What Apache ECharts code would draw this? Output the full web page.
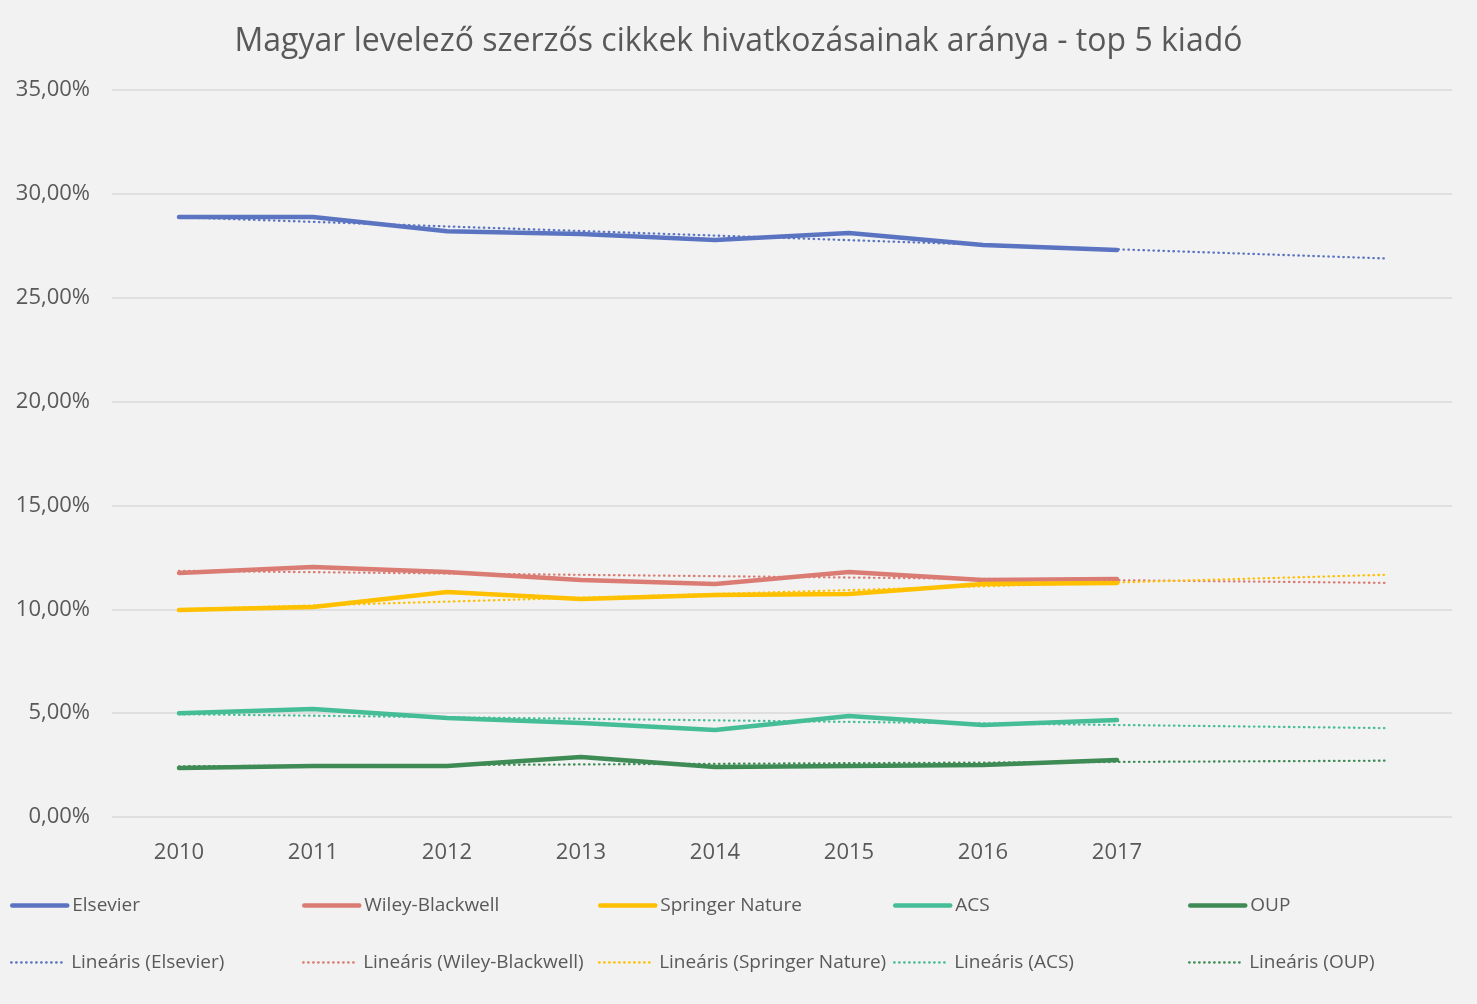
<!DOCTYPE html>
<html>
<head>
<meta charset="utf-8">
<script src="https://cdn.jsdelivr.net/npm/echarts@6/dist/echarts.min.js"></script>
<style>
html,body{margin:0;padding:0;background:#F2F2F2;}
#c{width:1477px;height:1004px;}
</style>
</head>
<body>
<div id="c"></div>
<script>
const categories = ['2010','2011','2012','2013','2014','2015','2016','2017','',''];
const elsevier = [28.89, 28.89, 28.20, 28.07, 27.78, 28.12, 27.54, 27.30];
const wiley    = [11.75, 12.04, 11.80, 11.41, 11.22, 11.80, 11.41, 11.46];
const springer = [9.97, 10.11, 10.83, 10.50, 10.69, 10.74, 11.22, 11.27];
const acs      = [5.00, 5.20, 4.77, 4.53, 4.19, 4.86, 4.43, 4.67];
const oup      = [2.36, 2.46, 2.46, 2.89, 2.41, 2.46, 2.50, 2.74];
// trendline endpoints (2010 and end of forecast)
const trendElsevier = [28.87, null, null, null, null, null, null, null, null, 26.89];
const trendWiley    = [11.85, null, null, null, null, null, null, null, null, 11.27];
const trendSpringer = [10.00, null, null, null, null, null, null, null, null, 11.66];
const trendAcs      = [4.95, null, null, null, null, null, null, null, null, 4.28];
const trendOup      = [2.44, null, null, null, null, null, null, null, null, 2.71];
const yTicks = [0,5,10,15,20,25,30,35];

const names = ['Elsevier','Wiley-Blackwell','Springer Nature','ACS','OUP'];
const colors = ['#5B74C2','#DA7C73','#FFC000','#45BD96','#3F8B55'];
const mains = [elsevier, wiley, springer, acs, oup];
const trends = [trendElsevier, trendWiley, trendSpringer, trendAcs, trendOup];

const series = [];
names.forEach((n,i)=>{
  series.push({name:n,type:'line',data:mains[i],symbol:'none',smooth:false,
    lineStyle:{color:colors[i],width:4.5,cap:'round',join:'round'},itemStyle:{color:colors[i]},z:2});
});
names.forEach((n,i)=>{
  series.push({name:'Lineáris ('+n+')',type:'line',data:trends[i],symbol:'none',connectNulls:true,
    lineStyle:{color:colors[i],width:2.3,type:[0.5,4.5],cap:'round'},itemStyle:{color:colors[i]},z:3});
});

const colX = [10, 302, 598, 893, 1188];
const legends = [];
series.forEach((s,k)=>{
  const col = k%5, row = Math.floor(k/5);
  legends.push({
    data:[s.name], left:colX[col], top: row===0 ? 896 : 953,
    itemWidth:55, itemHeight:14, itemGap:0, padding:0,
    itemStyle:{color:'transparent',borderColor:'transparent',borderWidth:0},
    lineStyle:{width:'inherit'},
    textStyle:{fontFamily:'Open Sans',fontSize:19,color:'#595959',padding:[0,0,0,0]},
    selectedMode:false
  });
});

const chart = echarts.init(document.getElementById('c'));
chart.setOption({
  backgroundColor:'#F2F2F2',
  animation:false,
  title:{text:'Magyar levelező szerzős cikkek hivatkozásainak aránya - top 5 kiadó',
    left:'center',top:21,
    textStyle:{fontFamily:'Open Sans',fontSize:32,fontWeight:'normal',color:'#595959'}},
  legend:legends,
  grid:{left:112,right:25,top:90,bottom:187,containLabel:false},
  xAxis:{type:'category',data:categories,boundaryGap:true,
    axisLine:{show:false},axisTick:{show:false},
    axisLabel:{fontFamily:'Open Sans',fontSize:22,color:'#595959',margin:25}},
  yAxis:{type:'value',min:0,max:35,interval:5,
    axisLine:{show:false},axisTick:{show:false},
    splitLine:{lineStyle:{color:'#D9D9D9',width:1.5}},
    axisLabel:{fontFamily:'Open Sans',fontSize:22,color:'#595959',margin:22,padding:[4,0,0,0],
      formatter:v=>v.toFixed(2).replace('.',',')+'%'}},
  series:series
});
</script>
</body>
</html>
